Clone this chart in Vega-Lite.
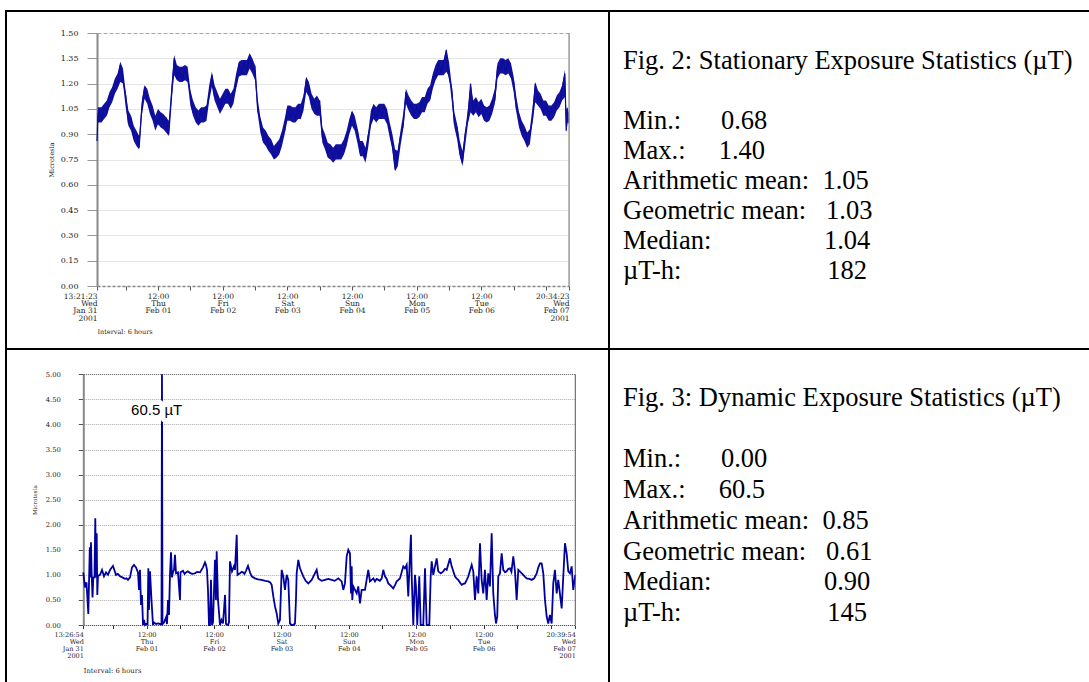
{
"$schema": "https://vega.github.io/schema/vega-lite/v6.json",
"background": "white",
"padding": {"left": 5, "top": 10, "right": 0, "bottom": 0},
"columns": 2,
"spacing": 0,
"bounds": "flush",
"align": "each",
"config": {
  "view": {"stroke": "black", "strokeWidth": 2, "fill": "white"},
  "axis": {"labelFont": "DejaVu Serif", "titleFont": "DejaVu Serif", "labelColor": "#222222", "titleColor": "#222222", "titleFontWeight": "normal"},
  "axisY": {"labelOverlap": false},
  "axisX": {"labelOverlap": false}
},
"concat": [
{
  "width": 603, "height": 338,
  "data": {"values": [
{"t":"2001-01-31T13:21:23","lo":0.84,"hi":0.96,"v":0.86},{"t":"2001-01-31T13:40","lo":0.97,"hi":1.06,"v":1.00},{"t":"2001-01-31T14:00","lo":0.97,"hi":1.06,"v":1.04},{"t":"2001-01-31T15:00","lo":0.97,"hi":1.06,"v":0.99},{"t":"2001-01-31T16:00","lo":0.99,"hi":1.08,"v":1.06},{"t":"2001-01-31T17:00","lo":1.01,"hi":1.10,"v":1.03},{"t":"2001-01-31T18:00","lo":1.06,"hi":1.15,"v":1.13},{"t":"2001-01-31T19:00","lo":1.09,"hi":1.18,"v":1.11},{"t":"2001-01-31T20:00","lo":1.14,"hi":1.23,"v":1.21},{"t":"2001-01-31T21:00","lo":1.17,"hi":1.26,"v":1.19},{"t":"2001-01-31T22:00","lo":1.21,"hi":1.33,"v":1.31},{"t":"2001-01-31T23:00","lo":1.20,"hi":1.29,"v":1.22},
{"t":"2001-02-01T00:00","lo":1.06,"hi":1.15,"v":1.13},{"t":"2001-02-01T01:00","lo":0.95,"hi":1.04,"v":0.97},{"t":"2001-02-01T02:00","lo":0.92,"hi":1.01,"v":0.99},{"t":"2001-02-01T03:00","lo":0.86,"hi":0.95,"v":0.88},{"t":"2001-02-01T04:00","lo":0.83,"hi":0.92,"v":0.90},{"t":"2001-02-01T05:00","lo":0.81,"hi":0.89,"v":0.82},{"t":"2001-02-01T06:00","lo":1.01,"hi":1.10,"v":1.06},{"t":"2001-02-01T07:00","lo":1.11,"hi":1.19,"v":1.18},{"t":"2001-02-01T08:00","lo":1.08,"hi":1.17,"v":1.10},{"t":"2001-02-01T09:00","lo":1.02,"hi":1.11,"v":1.09},{"t":"2001-02-01T10:00","lo":0.98,"hi":1.07,"v":1.00},{"t":"2001-02-01T11:00","lo":0.92,"hi":1.01,"v":0.99},{"t":"2001-02-01T12:00","lo":0.96,"hi":1.05,"v":0.96},{"t":"2001-02-01T13:00","lo":0.94,"hi":1.03,"v":1.02},{"t":"2001-02-01T14:00","lo":0.93,"hi":1.02,"v":0.95},{"t":"2001-02-01T15:00","lo":0.91,"hi":1.00,"v":0.99},{"t":"2001-02-01T16:00","lo":0.89,"hi":0.98,"v":0.90},{"t":"2001-02-01T17:00","lo":1.10,"hi":1.19,"v":1.12},{"t":"2001-02-01T18:00","lo":1.25,"hi":1.37,"v":1.35},{"t":"2001-02-01T19:00","lo":1.22,"hi":1.31,"v":1.24},{"t":"2001-02-01T20:00","lo":1.21,"hi":1.30,"v":1.28},{"t":"2001-02-01T21:00","lo":1.21,"hi":1.30,"v":1.22},{"t":"2001-02-01T22:00","lo":1.22,"hi":1.31,"v":1.29},{"t":"2001-02-01T23:00","lo":1.21,"hi":1.30,"v":1.23},
{"t":"2001-02-02T00:00","lo":1.07,"hi":1.16,"v":1.14},{"t":"2001-02-02T01:00","lo":1.01,"hi":1.10,"v":1.03},{"t":"2001-02-02T02:00","lo":0.97,"hi":1.06,"v":1.03},{"t":"2001-02-02T03:00","lo":0.95,"hi":1.04,"v":0.97},{"t":"2001-02-02T04:00","lo":0.97,"hi":1.06,"v":1.04},{"t":"2001-02-02T05:00","lo":0.97,"hi":1.06,"v":0.99},{"t":"2001-02-02T06:00","lo":0.98,"hi":1.07,"v":1.05},{"t":"2001-02-02T07:00","lo":1.10,"hi":1.19,"v":1.13},{"t":"2001-02-02T08:00","lo":1.18,"hi":1.27,"v":1.25},{"t":"2001-02-02T09:00","lo":1.10,"hi":1.19,"v":1.12},{"t":"2001-02-02T10:00","lo":1.06,"hi":1.15,"v":1.13},{"t":"2001-02-02T11:00","lo":1.02,"hi":1.11,"v":1.04},{"t":"2001-02-02T12:00","lo":1.05,"hi":1.14,"v":1.12},{"t":"2001-02-02T13:00","lo":1.08,"hi":1.17,"v":1.10},{"t":"2001-02-02T14:00","lo":1.08,"hi":1.17,"v":1.15},{"t":"2001-02-02T15:00","lo":1.05,"hi":1.14,"v":1.07},{"t":"2001-02-02T16:00","lo":1.08,"hi":1.17,"v":1.15},{"t":"2001-02-02T17:00","lo":1.17,"hi":1.26,"v":1.19},{"t":"2001-02-02T18:00","lo":1.24,"hi":1.33,"v":1.31},{"t":"2001-02-02T19:00","lo":1.25,"hi":1.34,"v":1.27},{"t":"2001-02-02T20:00","lo":1.25,"hi":1.34,"v":1.32},{"t":"2001-02-02T21:00","lo":1.25,"hi":1.34,"v":1.27},{"t":"2001-02-02T22:00","lo":1.29,"hi":1.38,"v":1.37},{"t":"2001-02-02T23:00","lo":1.26,"hi":1.35,"v":1.28},
{"t":"2001-02-03T00:00","lo":1.22,"hi":1.31,"v":1.30},{"t":"2001-02-03T01:00","lo":1.02,"hi":1.11,"v":1.04},{"t":"2001-02-03T02:00","lo":0.91,"hi":1.00,"v":0.98},{"t":"2001-02-03T03:00","lo":0.85,"hi":0.94,"v":0.87},{"t":"2001-02-03T04:00","lo":0.83,"hi":0.92,"v":0.90},{"t":"2001-02-03T05:00","lo":0.80,"hi":0.89,"v":0.82},{"t":"2001-02-03T06:00","lo":0.78,"hi":0.87,"v":0.85},{"t":"2001-02-03T07:00","lo":0.75,"hi":0.83,"v":0.76},{"t":"2001-02-03T08:00","lo":0.76,"hi":0.85,"v":0.83},{"t":"2001-02-03T09:00","lo":0.78,"hi":0.87,"v":0.80},{"t":"2001-02-03T10:00","lo":0.83,"hi":0.92,"v":0.90},{"t":"2001-02-03T11:00","lo":0.90,"hi":0.99,"v":0.92},{"t":"2001-02-03T12:00","lo":0.98,"hi":1.07,"v":1.05},{"t":"2001-02-03T13:00","lo":0.98,"hi":1.07,"v":1.00},{"t":"2001-02-03T14:00","lo":0.97,"hi":1.06,"v":1.04},{"t":"2001-02-03T15:00","lo":0.97,"hi":1.06,"v":0.99},{"t":"2001-02-03T16:00","lo":0.99,"hi":1.08,"v":1.06},{"t":"2001-02-03T17:00","lo":0.99,"hi":1.08,"v":1.01},{"t":"2001-02-03T18:00","lo":1.04,"hi":1.13,"v":1.10},{"t":"2001-02-03T19:00","lo":1.15,"hi":1.24,"v":1.22},{"t":"2001-02-03T20:00","lo":1.12,"hi":1.21,"v":1.18},{"t":"2001-02-03T21:00","lo":1.05,"hi":1.14,"v":1.07},{"t":"2001-02-03T22:00","lo":1.02,"hi":1.11,"v":1.09},{"t":"2001-02-03T23:00","lo":1.01,"hi":1.13,"v":1.03},
{"t":"2001-02-04T00:00","lo":1.01,"hi":1.10,"v":1.10},{"t":"2001-02-04T01:00","lo":0.85,"hi":0.94,"v":0.88},{"t":"2001-02-04T02:00","lo":0.81,"hi":0.90,"v":0.88},{"t":"2001-02-04T03:00","lo":0.76,"hi":0.85,"v":0.78},{"t":"2001-02-04T04:00","lo":0.75,"hi":0.84,"v":0.82},{"t":"2001-02-04T05:00","lo":0.73,"hi":0.82,"v":0.76},{"t":"2001-02-04T06:00","lo":0.75,"hi":0.84,"v":0.82},{"t":"2001-02-04T07:00","lo":0.75,"hi":0.84,"v":0.77},{"t":"2001-02-04T08:00","lo":0.75,"hi":0.84,"v":0.82},{"t":"2001-02-04T09:00","lo":0.78,"hi":0.87,"v":0.80},{"t":"2001-02-04T10:00","lo":0.83,"hi":0.92,"v":0.90},{"t":"2001-02-04T11:00","lo":0.90,"hi":0.99,"v":0.92},{"t":"2001-02-04T12:00","lo":0.95,"hi":1.04,"v":1.03},{"t":"2001-02-04T13:00","lo":0.92,"hi":1.01,"v":0.95},{"t":"2001-02-04T14:00","lo":0.85,"hi":0.94,"v":0.92},{"t":"2001-02-04T15:00","lo":0.77,"hi":0.86,"v":0.80},{"t":"2001-02-04T16:00","lo":0.77,"hi":0.86,"v":0.84},{"t":"2001-02-04T17:00","lo":0.73,"hi":0.82,"v":0.76},{"t":"2001-02-04T18:00","lo":0.82,"hi":0.91,"v":0.89},{"t":"2001-02-04T19:00","lo":0.95,"hi":1.04,"v":0.97},{"t":"2001-02-04T20:00","lo":0.99,"hi":1.08,"v":1.06},{"t":"2001-02-04T21:00","lo":0.97,"hi":1.06,"v":0.99},{"t":"2001-02-04T22:00","lo":0.99,"hi":1.08,"v":1.06},{"t":"2001-02-04T23:00","lo":0.99,"hi":1.08,"v":1.01},
{"t":"2001-02-05T00:00","lo":0.99,"hi":1.08,"v":1.06},{"t":"2001-02-05T01:00","lo":0.96,"hi":1.05,"v":0.98},{"t":"2001-02-05T02:00","lo":0.88,"hi":0.97,"v":0.94},{"t":"2001-02-05T03:00","lo":0.81,"hi":0.90,"v":0.83},{"t":"2001-02-05T04:00","lo":0.68,"hi":0.81,"v":0.69},{"t":"2001-02-05T05:00","lo":0.71,"hi":0.80,"v":0.79},{"t":"2001-02-05T06:00","lo":0.83,"hi":0.92,"v":0.89},{"t":"2001-02-05T07:00","lo":0.93,"hi":1.02,"v":0.95},{"t":"2001-02-05T08:00","lo":1.08,"hi":1.17,"v":1.15},{"t":"2001-02-05T09:00","lo":1.04,"hi":1.13,"v":1.06},{"t":"2001-02-05T10:00","lo":1.01,"hi":1.10,"v":1.08},{"t":"2001-02-05T11:00","lo":0.99,"hi":1.08,"v":1.01},{"t":"2001-02-05T12:00","lo":0.99,"hi":1.08,"v":1.06},{"t":"2001-02-05T13:00","lo":1.00,"hi":1.09,"v":1.02},{"t":"2001-02-05T14:00","lo":1.03,"hi":1.12,"v":1.10},{"t":"2001-02-05T15:00","lo":1.03,"hi":1.12,"v":1.05},{"t":"2001-02-05T16:00","lo":1.08,"hi":1.17,"v":1.15},{"t":"2001-02-05T17:00","lo":1.10,"hi":1.19,"v":1.12},{"t":"2001-02-05T18:00","lo":1.17,"hi":1.26,"v":1.24},{"t":"2001-02-05T19:00","lo":1.22,"hi":1.31,"v":1.24},{"t":"2001-02-05T20:00","lo":1.25,"hi":1.34,"v":1.32},{"t":"2001-02-05T21:00","lo":1.25,"hi":1.34,"v":1.27},{"t":"2001-02-05T22:00","lo":1.25,"hi":1.34,"v":1.32},{"t":"2001-02-05T23:00","lo":1.27,"hi":1.40,"v":1.40},
{"t":"2001-02-06T00:00","lo":1.24,"hi":1.33,"v":1.24},{"t":"2001-02-06T01:00","lo":1.10,"hi":1.19,"v":1.17},{"t":"2001-02-06T02:00","lo":0.94,"hi":1.03,"v":0.96},{"t":"2001-02-06T03:00","lo":0.87,"hi":0.96,"v":0.94},{"t":"2001-02-06T04:00","lo":0.77,"hi":0.86,"v":0.79},{"t":"2001-02-06T05:00","lo":0.71,"hi":0.80,"v":0.73},{"t":"2001-02-06T06:00","lo":0.83,"hi":0.92,"v":0.90},{"t":"2001-02-06T07:00","lo":0.96,"hi":1.05,"v":0.99},{"t":"2001-02-06T08:00","lo":1.03,"hi":1.20,"v":1.20},{"t":"2001-02-06T09:00","lo":1.01,"hi":1.10,"v":1.03},{"t":"2001-02-06T10:00","lo":1.03,"hi":1.12,"v":1.10},{"t":"2001-02-06T11:00","lo":1.00,"hi":1.09,"v":1.02},{"t":"2001-02-06T12:00","lo":1.02,"hi":1.11,"v":1.09},{"t":"2001-02-06T13:00","lo":0.98,"hi":1.07,"v":1.00},{"t":"2001-02-06T14:00","lo":0.97,"hi":1.06,"v":1.04},{"t":"2001-02-06T15:00","lo":0.98,"hi":1.07,"v":1.00},{"t":"2001-02-06T16:00","lo":1.02,"hi":1.11,"v":1.09},{"t":"2001-02-06T17:00","lo":1.08,"hi":1.17,"v":1.10},{"t":"2001-02-06T18:00","lo":1.23,"hi":1.32,"v":1.30},{"t":"2001-02-06T19:00","lo":1.26,"hi":1.35,"v":1.28},{"t":"2001-02-06T20:00","lo":1.26,"hi":1.35,"v":1.34},{"t":"2001-02-06T21:00","lo":1.25,"hi":1.34,"v":1.27},{"t":"2001-02-06T22:00","lo":1.26,"hi":1.35,"v":1.33},{"t":"2001-02-06T23:00","lo":1.23,"hi":1.32,"v":1.25},
{"t":"2001-02-07T00:00","lo":1.15,"hi":1.24,"v":1.21},{"t":"2001-02-07T01:00","lo":1.03,"hi":1.12,"v":1.05},{"t":"2001-02-07T02:00","lo":0.94,"hi":1.03,"v":1.01},{"t":"2001-02-07T03:00","lo":0.89,"hi":0.98,"v":0.91},{"t":"2001-02-07T04:00","lo":0.86,"hi":0.95,"v":0.93},{"t":"2001-02-07T05:00","lo":0.82,"hi":0.91,"v":0.85},{"t":"2001-02-07T06:00","lo":0.84,"hi":0.93,"v":0.90},{"t":"2001-02-07T07:00","lo":0.97,"hi":1.06,"v":0.99},{"t":"2001-02-07T08:00","lo":1.09,"hi":1.21,"v":1.20},{"t":"2001-02-07T09:00","lo":1.07,"hi":1.16,"v":1.09},{"t":"2001-02-07T10:00","lo":1.05,"hi":1.14,"v":1.12},{"t":"2001-02-07T11:00","lo":1.01,"hi":1.10,"v":1.03},{"t":"2001-02-07T12:00","lo":1.01,"hi":1.10,"v":1.08},{"t":"2001-02-07T13:00","lo":0.98,"hi":1.07,"v":1.00},{"t":"2001-02-07T14:00","lo":0.98,"hi":1.07,"v":1.05},{"t":"2001-02-07T15:00","lo":1.00,"hi":1.09,"v":1.02},{"t":"2001-02-07T16:00","lo":1.04,"hi":1.13,"v":1.11},{"t":"2001-02-07T17:00","lo":1.06,"hi":1.15,"v":1.08},{"t":"2001-02-07T18:00","lo":1.10,"hi":1.19,"v":1.17},{"t":"2001-02-07T19:00","lo":1.12,"hi":1.28,"v":1.26},{"t":"2001-02-07T19:30","lo":0.91,"hi":1.05,"v":0.92},{"t":"2001-02-07T20:00","lo":0.97,"hi":1.06,"v":1.03},{"t":"2001-02-07T20:34:23","lo":0.96,"hi":1.02,"v":0.98}
  ]},
  "layer": [
    {
      "mark": {"type": "area", "color": "#12129e", "opacity": 1},
      "encoding": {
        "x": {"field": "t", "type": "temporal", "scale": {"range": [91, 563.1], "nice": false},
          "axis": {"title": "Interval: 6 hours", "titleAnchor": "start", "titleAlign": "left", "titleFontSize": 6.5, "titlePadding": 7,
            "values": [
              {"year":2001,"month":1,"date":31,"hours":13,"minutes":21,"seconds":23},
              {"year":2001,"month":1,"date":31,"hours":18},
              {"year":2001,"month":2,"date":1,"hours":0},{"year":2001,"month":2,"date":1,"hours":6},{"year":2001,"month":2,"date":1,"hours":12},{"year":2001,"month":2,"date":1,"hours":18},
              {"year":2001,"month":2,"date":2,"hours":0},{"year":2001,"month":2,"date":2,"hours":6},{"year":2001,"month":2,"date":2,"hours":12},{"year":2001,"month":2,"date":2,"hours":18},
              {"year":2001,"month":2,"date":3,"hours":0},{"year":2001,"month":2,"date":3,"hours":6},{"year":2001,"month":2,"date":3,"hours":12},{"year":2001,"month":2,"date":3,"hours":18},
              {"year":2001,"month":2,"date":4,"hours":0},{"year":2001,"month":2,"date":4,"hours":6},{"year":2001,"month":2,"date":4,"hours":12},{"year":2001,"month":2,"date":4,"hours":18},
              {"year":2001,"month":2,"date":5,"hours":0},{"year":2001,"month":2,"date":5,"hours":6},{"year":2001,"month":2,"date":5,"hours":12},{"year":2001,"month":2,"date":5,"hours":18},
              {"year":2001,"month":2,"date":6,"hours":0},{"year":2001,"month":2,"date":6,"hours":6},{"year":2001,"month":2,"date":6,"hours":12},{"year":2001,"month":2,"date":6,"hours":18},
              {"year":2001,"month":2,"date":7,"hours":0},{"year":2001,"month":2,"date":7,"hours":6},{"year":2001,"month":2,"date":7,"hours":12},{"year":2001,"month":2,"date":7,"hours":18},
              {"year":2001,"month":2,"date":7,"hours":20,"minutes":34,"seconds":23}
            ],
            "labelExpr": "minutes(datum.value) != 0 ? split(timeFormat(datum.value, '%H:%M:%S|%a|%b %d|%Y'), '|') : (hours(datum.value) == 12 && date(datum.value) != 7 ? split(timeFormat(datum.value, '%H:%M|%a|%b %d'), '|') : '')",
            "labelAlign": {"condition": {"test": "minutes(datum.value) != 0", "value": "right"}, "value": "center"},
            "labelFontSize": 7.5, "labelLineHeight": 7.4, "labelPadding": 2, "labelOverlap": false, "labelFlush": false, "labelBound": false,
            "tickSize": 4, "tickColor": "#555555",
            "domainColor": "#888888", "domainDash": [3, 2], "domainWidth": 1.5,
            "grid": false, "offset": -63}},
        "y": {"field": "lo", "type": "quantitative", "scale": {"domain": [0, 1.5], "range": [275, 22], "nice": false},
          "axis": {"title": "Microtesla", "titleFontSize": 6.5, "titlePadding": 6,
            "values": [0, 0.15, 0.3, 0.45, 0.6, 0.75, 0.9, 1.05, 1.2, 1.35, 1.5], "tickCount": 40, "format": ".2f", "labelOverlap": false,
            "labelFontSize": 8, "labelPadding": 9, "tickSize": 10, "tickColor": "#999999",
            "domainColor": "#888888", "domainWidth": 2,
            "grid": true,
            "gridColor": {"condition": {"test": "datum.value >= 1.5", "value": "#aaaaaa"}, "value": "#e6e6e6"},
            "gridDash": {"condition": {"test": "datum.value >= 1.5", "value": [4, 2]}, "value": []},
            "offset": -91}},
        "y2": {"field": "hi"}
      }
    },
    {
      "mark": {"type": "line", "color": "#0b0b9c", "strokeWidth": 1.2},
      "encoding": {
        "x": {"field": "t", "type": "temporal", "title": "Interval: 6 hours"},
        "y": {"field": "v", "type": "quantitative", "title": "Microtesla"}
      }
    },
    {
      "mark": {"type": "rule", "color": "#999999", "strokeWidth": 1.5},
      "encoding": {
        "x": {"aggregate": "max", "field": "t", "type": "temporal", "title": "Interval: 6 hours"},
        "y": {"datum": 0, "type": "quantitative", "title": "Microtesla"},
        "y2": {"datum": 1.5}
      }
    }
  ]
},
{
  "width": 490, "height": 338,
  "data": {"values": [
    {"line": 0, "text": "Fig. 2: Stationary Exposure Statistics (µT)"},
    {"line": 2, "text": "Min.:\u00a0\u00a0\u00a0\u00a0\u00a0\u00a00.68"},
    {"line": 3, "text": "Max.:\u00a0\u00a0\u00a0\u00a0\u00a01.40"},
    {"line": 4, "text": "Arithmetic mean:\u00a0\u00a01.05"},
    {"line": 5, "text": "Geometric mean:\u00a0\u00a0\u00a01.03"},
    {"line": 6, "text": "Median:\u00a0\u00a0\u00a0\u00a0\u00a0\u00a0\u00a0\u00a0\u00a0\u00a0\u00a0\u00a0\u00a0\u00a0\u00a0\u00a0\u00a01.04"},
    {"line": 7, "text": "µT-h:\u00a0\u00a0\u00a0\u00a0\u00a0\u00a0\u00a0\u00a0\u00a0\u00a0\u00a0\u00a0\u00a0\u00a0\u00a0\u00a0\u00a0\u00a0\u00a0\u00a0\u00a0\u00a0182"}
  ]},
  "mark": {"type": "text", "align": "left", "baseline": "alphabetic", "font": "Liberation Serif", "fontSize": 26.5, "color": "black"},
  "encoding": {
    "x": {"datum": 0, "type": "quantitative", "scale": {"domain": [0, 1], "range": [14, 480]}, "axis": null},
    "y": {"field": "line", "type": "quantitative", "scale": {"domain": [0, 9], "range": [58, 328.4]}, "axis": null},
    "text": {"field": "text", "type": "nominal"}
  }
},
{
  "width": 603, "height": 345,
  "data": {"values": [
{"t":"2001-01-31T13:26:54","v":1.05},{"t":"2001-01-31T13:50","v":0.85},{"t":"2001-01-31T14:03","v":0.75},{"t":"2001-01-31T14:35","v":0.85},{"t":"2001-01-31T14:57","v":0.50},{"t":"2001-01-31T15:14","v":0.22},{"t":"2001-01-31T15:29","v":0.85},{"t":"2001-01-31T15:46","v":1.55},{"t":"2001-01-31T16:01","v":0.95},{"t":"2001-01-31T16:11","v":1.65},{"t":"2001-01-31T16:26","v":1.00},{"t":"2001-01-31T16:44","v":0.55},{"t":"2001-01-31T17:01","v":0.95},{"t":"2001-01-31T17:26","v":0.95},{"t":"2001-01-31T17:43","v":2.13},{"t":"2001-01-31T17:58","v":0.95},{"t":"2001-01-31T18:13","v":1.83},{"t":"2001-01-31T18:26","v":0.60},{"t":"2001-01-31T18:41","v":0.98},{"t":"2001-01-31T19:24","v":1.00},{"t":"2001-01-31T20:07","v":1.10},{"t":"2001-01-31T20:49","v":0.97},{"t":"2001-01-31T21:32","v":1.05},{"t":"2001-01-31T22:15","v":1.00},{"t":"2001-01-31T22:58","v":1.10},
{"t":"2001-02-01T00:01","v":1.18},{"t":"2001-02-01T01:05","v":1.00},{"t":"2001-02-01T01:45","v":1.02},{"t":"2001-02-01T02:31","v":0.97},{"t":"2001-02-01T03:20","v":0.95},{"t":"2001-02-01T04:18","v":0.92},{"t":"2001-02-01T04:50","v":0.93},{"t":"2001-02-01T05:22","v":0.90},{"t":"2001-02-01T06:05","v":0.95},{"t":"2001-02-01T06:47","v":1.15},{"t":"2001-02-01T07:30","v":1.20},{"t":"2001-02-01T08:13","v":1.15},{"t":"2001-02-01T08:56","v":1.05},{"t":"2001-02-01T09:17","v":0.70},{"t":"2001-02-01T09:38","v":1.10},{"t":"2001-02-01T10:00","v":0.40},{"t":"2001-02-01T10:21","v":0.60},{"t":"2001-02-01T10:43","v":0.00},{"t":"2001-02-01T11:04","v":0.10},{"t":"2001-02-01T11:25","v":0.00},{"t":"2001-02-01T11:47","v":0.02},{"t":"2001-02-01T12:20","v":0.02},{"t":"2001-02-01T12:36","v":1.13},{"t":"2001-02-01T12:50","v":0.30},{"t":"2001-02-01T13:12","v":1.07},{"t":"2001-02-01T13:44","v":0.50},{"t":"2001-02-01T14:16","v":0.00},{"t":"2001-02-01T14:37","v":0.05},{"t":"2001-02-01T15:20","v":0.02},{"t":"2001-02-01T16:03","v":0.03},{"t":"2001-02-01T16:46","v":0.02},{"t":"2001-02-01T17:18","v":0.02},{"t":"2001-02-01T17:28","v":60.5},{"t":"2001-02-01T17:39","v":0.02},{"t":"2001-02-01T18:11","v":0.05},{"t":"2001-02-01T18:54","v":0.15},{"t":"2001-02-01T19:15","v":0.02},{"t":"2001-02-01T19:37","v":0.50},{"t":"2001-02-01T19:58","v":0.20},{"t":"2001-02-01T20:19","v":1.00},{"t":"2001-02-01T20:41","v":1.45},{"t":"2001-02-01T21:02","v":0.95},{"t":"2001-02-01T21:23","v":1.05},{"t":"2001-02-01T21:45","v":1.10},{"t":"2001-02-01T22:06","v":1.40},{"t":"2001-02-01T22:28","v":1.03},{"t":"2001-02-01T23:10","v":1.05},{"t":"2001-02-01T23:53","v":0.50},
{"t":"2001-02-02T00:04","v":1.05},{"t":"2001-02-02T00:57","v":1.08},{"t":"2001-02-02T01:30","v":1.02},{"t":"2001-02-02T02:01","v":1.05},{"t":"2001-02-02T02:40","v":1.07},{"t":"2001-02-02T03:26","v":1.04},{"t":"2001-02-02T04:10","v":1.02},{"t":"2001-02-02T05:13","v":1.03},{"t":"2001-02-02T06:00","v":1.06},{"t":"2001-02-02T07:01","v":1.05},{"t":"2001-02-02T08:04","v":1.15},{"t":"2001-02-02T08:47","v":1.25},{"t":"2001-02-02T09:08","v":1.20},{"t":"2001-02-02T09:30","v":1.10},{"t":"2001-02-02T09:51","v":0.70},{"t":"2001-02-02T10:13","v":0.00},{"t":"2001-02-02T10:34","v":0.00},{"t":"2001-02-02T10:55","v":0.90},{"t":"2001-02-02T11:17","v":0.00},{"t":"2001-02-02T11:38","v":0.05},{"t":"2001-02-02T12:21","v":1.30},{"t":"2001-02-02T12:42","v":0.50},{"t":"2001-02-02T12:57","v":1.47},{"t":"2001-02-02T13:25","v":0.50},{"t":"2001-02-02T14:08","v":0.00},{"t":"2001-02-02T14:40","v":0.10},{"t":"2001-02-02T15:12","v":0.03},{"t":"2001-02-02T15:33","v":0.30},{"t":"2001-02-02T15:55","v":0.60},{"t":"2001-02-02T16:16","v":0.02},{"t":"2001-02-02T16:59","v":0.00},{"t":"2001-02-02T17:20","v":0.05},{"t":"2001-02-02T17:41","v":1.27},{"t":"2001-02-02T18:24","v":1.07},{"t":"2001-02-02T19:07","v":1.17},{"t":"2001-02-02T19:28","v":1.10},{"t":"2001-02-02T20:05","v":1.80},{"t":"2001-02-02T20:22","v":1.00},{"t":"2001-02-02T21:15","v":1.03},{"t":"2001-02-02T21:50","v":1.06},{"t":"2001-02-02T22:19","v":1.05},{"t":"2001-02-02T22:50","v":1.02},{"t":"2001-02-02T23:23","v":1.08},
{"t":"2001-02-03T00:06","v":1.18},{"t":"2001-02-03T00:49","v":1.05},{"t":"2001-02-03T01:25","v":0.97},{"t":"2001-02-03T02:35","v":0.93},{"t":"2001-02-03T03:40","v":0.91},{"t":"2001-02-03T04:59","v":0.90},{"t":"2001-02-03T06:10","v":0.88},{"t":"2001-02-03T07:20","v":0.87},{"t":"2001-02-03T08:00","v":0.85},{"t":"2001-02-03T08:32","v":0.80},{"t":"2001-02-03T09:07","v":0.57},{"t":"2001-02-03T09:43","v":0.37},{"t":"2001-02-03T10:19","v":0.23},{"t":"2001-02-03T10:53","v":0.03},{"t":"2001-02-03T11:29","v":0.10},{"t":"2001-02-03T12:06","v":1.10},{"t":"2001-02-03T12:40","v":0.97},{"t":"2001-02-03T13:16","v":0.70},{"t":"2001-02-03T13:53","v":1.00},{"t":"2001-02-03T14:27","v":0.90},{"t":"2001-02-03T15:03","v":0.03},{"t":"2001-02-03T15:40","v":0.00},{"t":"2001-02-03T16:14","v":0.00},{"t":"2001-02-03T16:50","v":0.03},{"t":"2001-02-03T17:11","v":0.50},{"t":"2001-02-03T17:26","v":1.03},{"t":"2001-02-03T18:01","v":1.30},{"t":"2001-02-03T18:37","v":1.13},{"t":"2001-02-03T19:47","v":0.97},{"t":"2001-02-03T20:40","v":0.88},{"t":"2001-02-03T21:34","v":0.83},{"t":"2001-02-03T22:47","v":0.90},
{"t":"2001-02-04T00:34","v":1.10},{"t":"2001-02-04T01:08","v":0.93},{"t":"2001-02-04T02:20","v":0.88},{"t":"2001-02-04T03:31","v":0.90},{"t":"2001-02-04T04:40","v":0.92},{"t":"2001-02-04T05:54","v":0.90},{"t":"2001-02-04T07:00","v":0.88},{"t":"2001-02-04T08:15","v":0.93},{"t":"2001-02-04T09:28","v":0.87},{"t":"2001-02-04T10:02","v":0.70},{"t":"2001-02-04T10:38","v":0.83},{"t":"2001-02-04T11:15","v":1.37},{"t":"2001-02-04T11:49","v":1.50},{"t":"2001-02-04T12:25","v":1.43},{"t":"2001-02-04T12:47","v":0.63},{"t":"2001-02-04T13:02","v":1.17},{"t":"2001-02-04T13:14","v":0.50},{"t":"2001-02-04T13:36","v":0.77},{"t":"2001-02-04T14:12","v":0.70},{"t":"2001-02-04T14:49","v":0.63},{"t":"2001-02-04T15:23","v":0.77},{"t":"2001-02-04T15:59","v":0.43},{"t":"2001-02-04T16:35","v":0.70},{"t":"2001-02-04T17:46","v":0.70},{"t":"2001-02-04T18:56","v":1.10},{"t":"2001-02-04T19:32","v":0.87},{"t":"2001-02-04T20:09","v":0.90},{"t":"2001-02-04T20:45","v":0.93},{"t":"2001-02-04T21:19","v":0.87},{"t":"2001-02-04T21:55","v":0.92},{"t":"2001-02-04T22:30","v":0.90},{"t":"2001-02-04T23:05","v":0.88},{"t":"2001-02-04T23:43","v":0.93},
{"t":"2001-02-05T00:17","v":1.10},{"t":"2001-02-05T00:53","v":0.97},{"t":"2001-02-05T01:30","v":0.92},{"t":"2001-02-05T02:04","v":0.83},{"t":"2001-02-05T03:00","v":0.78},{"t":"2001-02-05T03:50","v":0.73},{"t":"2001-02-05T04:30","v":0.80},{"t":"2001-02-05T05:03","v":0.87},{"t":"2001-02-05T05:40","v":0.90},{"t":"2001-02-05T06:13","v":0.93},{"t":"2001-02-05T07:24","v":1.17},{"t":"2001-02-05T08:00","v":1.13},{"t":"2001-02-05T08:37","v":1.20},{"t":"2001-02-05T09:11","v":0.57},{"t":"2001-02-05T09:37","v":1.17},{"t":"2001-02-05T10:08","v":1.80},{"t":"2001-02-05T10:23","v":1.00},{"t":"2001-02-05T10:58","v":0.00},{"t":"2001-02-05T11:34","v":1.00},{"t":"2001-02-05T11:55","v":0.77},{"t":"2001-02-05T12:23","v":0.00},{"t":"2001-02-05T13:06","v":0.97},{"t":"2001-02-05T13:36","v":0.00},{"t":"2001-02-05T14:31","v":0.00},{"t":"2001-02-05T15:08","v":1.13},{"t":"2001-02-05T15:44","v":0.00},{"t":"2001-02-05T16:40","v":0.00},{"t":"2001-02-05T17:10","v":0.97},{"t":"2001-02-05T17:31","v":1.27},{"t":"2001-02-05T18:05","v":1.00},{"t":"2001-02-05T19:18","v":1.33},{"t":"2001-02-05T19:52","v":1.07},{"t":"2001-02-05T20:45","v":1.03},{"t":"2001-02-05T21:39","v":1.07},{"t":"2001-02-05T22:15","v":1.12},{"t":"2001-02-05T22:52","v":1.10},
{"t":"2001-02-06T00:02","v":1.33},{"t":"2001-02-06T00:38","v":1.17},{"t":"2001-02-06T01:49","v":0.97},{"t":"2001-02-06T02:20","v":0.93},{"t":"2001-02-06T02:59","v":0.90},{"t":"2001-02-06T03:35","v":0.85},{"t":"2001-02-06T04:12","v":0.80},{"t":"2001-02-06T04:45","v":0.82},{"t":"2001-02-06T05:22","v":0.83},{"t":"2001-02-06T06:00","v":0.90},{"t":"2001-02-06T06:33","v":0.97},{"t":"2001-02-06T07:46","v":1.20},{"t":"2001-02-06T08:20","v":1.07},{"t":"2001-02-06T08:56","v":0.50},{"t":"2001-02-06T09:32","v":0.97},{"t":"2001-02-06T10:07","v":0.63},{"t":"2001-02-06T10:43","v":1.63},{"t":"2001-02-06T11:19","v":0.90},{"t":"2001-02-06T11:53","v":0.63},{"t":"2001-02-06T12:29","v":1.10},{"t":"2001-02-06T13:06","v":0.50},{"t":"2001-02-06T13:40","v":1.03},{"t":"2001-02-06T14:16","v":0.77},{"t":"2001-02-06T14:53","v":1.83},{"t":"2001-02-06T15:27","v":0.63},{"t":"2001-02-06T16:03","v":0.20},{"t":"2001-02-06T16:25","v":0.03},{"t":"2001-02-06T16:52","v":0.17},{"t":"2001-02-06T17:14","v":0.97},{"t":"2001-02-06T17:50","v":1.03},{"t":"2001-02-06T18:26","v":1.43},{"t":"2001-02-06T19:01","v":1.10},{"t":"2001-02-06T19:40","v":1.05},{"t":"2001-02-06T20:13","v":1.07},{"t":"2001-02-06T20:50","v":1.12},{"t":"2001-02-06T21:24","v":1.13},{"t":"2001-02-06T21:55","v":1.06},{"t":"2001-02-06T22:35","v":1.37},{"t":"2001-02-06T23:11","v":1.07},{"t":"2001-02-06T23:47","v":0.50},
{"t":"2001-02-07T00:22","v":1.10},{"t":"2001-02-07T01:15","v":1.05},{"t":"2001-02-07T02:08","v":1.00},{"t":"2001-02-07T02:45","v":0.96},{"t":"2001-02-07T03:21","v":0.93},{"t":"2001-02-07T04:15","v":0.92},{"t":"2001-02-07T05:08","v":0.90},{"t":"2001-02-07T06:00","v":0.93},{"t":"2001-02-07T06:55","v":1.03},{"t":"2001-02-07T07:30","v":1.15},{"t":"2001-02-07T08:05","v":1.23},{"t":"2001-02-07T08:41","v":1.23},{"t":"2001-02-07T09:16","v":1.03},{"t":"2001-02-07T09:52","v":0.50},{"t":"2001-02-07T10:28","v":0.17},{"t":"2001-02-07T11:02","v":0.03},{"t":"2001-02-07T11:38","v":0.20},{"t":"2001-02-07T12:15","v":0.03},{"t":"2001-02-07T12:49","v":0.83},{"t":"2001-02-07T13:25","v":1.10},{"t":"2001-02-07T14:02","v":0.63},{"t":"2001-02-07T14:36","v":0.90},{"t":"2001-02-07T15:49","v":0.33},{"t":"2001-02-07T16:23","v":0.97},{"t":"2001-02-07T16:59","v":1.63},{"t":"2001-02-07T17:35","v":1.43},{"t":"2001-02-07T18:10","v":1.07},{"t":"2001-02-07T18:46","v":1.03},{"t":"2001-02-07T19:22","v":1.17},{"t":"2001-02-07T19:56","v":0.70},{"t":"2001-02-07T20:39:54","v":1.00}
  ]},
  "layer": [
    {
      "mark": {"type": "line", "color": "#0000a0", "strokeWidth": 1.8},
      "encoding": {
        "x": {"field": "t", "type": "temporal", "scale": {"range": [77.3, 569.3], "nice": false},
          "axis": {"title": "Interval: 6 hours", "titleAnchor": "start", "titleAlign": "left", "titleFontSize": 6.8, "titlePadding": 8,
            "values": [
              {"year":2001,"month":1,"date":31,"hours":13,"minutes":26,"seconds":54},
              {"year":2001,"month":1,"date":31,"hours":18},
              {"year":2001,"month":2,"date":1,"hours":0},{"year":2001,"month":2,"date":1,"hours":6},{"year":2001,"month":2,"date":1,"hours":12},{"year":2001,"month":2,"date":1,"hours":18},
              {"year":2001,"month":2,"date":2,"hours":0},{"year":2001,"month":2,"date":2,"hours":6},{"year":2001,"month":2,"date":2,"hours":12},{"year":2001,"month":2,"date":2,"hours":18},
              {"year":2001,"month":2,"date":3,"hours":0},{"year":2001,"month":2,"date":3,"hours":6},{"year":2001,"month":2,"date":3,"hours":12},{"year":2001,"month":2,"date":3,"hours":18},
              {"year":2001,"month":2,"date":4,"hours":0},{"year":2001,"month":2,"date":4,"hours":6},{"year":2001,"month":2,"date":4,"hours":12},{"year":2001,"month":2,"date":4,"hours":18},
              {"year":2001,"month":2,"date":5,"hours":0},{"year":2001,"month":2,"date":5,"hours":6},{"year":2001,"month":2,"date":5,"hours":12},{"year":2001,"month":2,"date":5,"hours":18},
              {"year":2001,"month":2,"date":6,"hours":0},{"year":2001,"month":2,"date":6,"hours":6},{"year":2001,"month":2,"date":6,"hours":12},{"year":2001,"month":2,"date":6,"hours":18},
              {"year":2001,"month":2,"date":7,"hours":0},{"year":2001,"month":2,"date":7,"hours":6},{"year":2001,"month":2,"date":7,"hours":12},{"year":2001,"month":2,"date":7,"hours":18},
              {"year":2001,"month":2,"date":7,"hours":20,"minutes":39,"seconds":54}
            ],
            "labelExpr": "minutes(datum.value) != 0 ? split(timeFormat(datum.value, '%H:%M:%S|%a|%b %d|%Y'), '|') : (hours(datum.value) == 12 && date(datum.value) != 7 ? split(timeFormat(datum.value, '%H:%M|%a|%b %d'), '|') : '')",
            "labelAlign": {"condition": {"test": "minutes(datum.value) != 0", "value": "right"}, "value": "center"},
            "labelFontSize": 6.5, "labelLineHeight": 7, "labelPadding": 3, "labelOverlap": false, "labelFlush": false, "labelBound": false,
            "tickSize": 3.5, "tickColor": "#333333",
            "domainColor": "#444444", "domainDash": [1, 1], "domainWidth": 1,
            "grid": false, "offset": -69}},
        "y": {"field": "v", "type": "quantitative", "scale": {"domain": [0, 5], "range": [276, 25.3], "nice": false, "clamp": true},
          "axis": {"title": "Microtesla", "titleFontSize": 5.5, "titlePadding": 8,
            "values": [0, 0.5, 1, 1.5, 2, 2.5, 3, 3.5, 4, 4.5, 5], "tickCount": 40, "format": ".2f", "labelOverlap": false,
            "labelFontSize": 6.8, "labelPadding": 18, "tickSize": 5, "tickColor": "#555555",
            "domainColor": "#888888", "domainWidth": 2,
            "grid": true,
            "gridColor": {"condition": {"test": "datum.value >= 5", "value": "#555555"}, "value": "#aaaaaa"},
            "gridDash": [1, 1],
            "offset": -77.3}}
      }
    },
    {
      "mark": {"type": "rule", "color": "#555555", "strokeWidth": 1},
      "encoding": {
        "x": {"aggregate": "max", "field": "t", "type": "temporal", "title": "Interval: 6 hours"},
        "y": {"datum": 0, "type": "quantitative", "title": "Microtesla"},
        "y2": {"datum": 5}
      }
    },
    {
      "data": {"values": [{"t": "2001-02-01T15:35", "v": 4.28, "label": "60.5 µT"}]},
      "mark": {"type": "text", "font": "Liberation Sans", "fontSize": 15, "fill": "white", "stroke": "white", "strokeWidth": 10, "strokeJoin": "round", "align": "center", "baseline": "middle"},
      "encoding": {
        "x": {"field": "t", "type": "temporal", "title": "Interval: 6 hours"},
        "y": {"field": "v", "type": "quantitative", "title": "Microtesla"},
        "text": {"field": "label", "type": "nominal"}
      }
    },
    {
      "data": {"values": [{"t": "2001-02-01T15:35", "v": 4.28, "label": "60.5 µT"}]},
      "mark": {"type": "text", "font": "Liberation Sans", "fontSize": 15, "fill": "black", "align": "center", "baseline": "middle"},
      "encoding": {
        "x": {"field": "t", "type": "temporal", "title": "Interval: 6 hours"},
        "y": {"field": "v", "type": "quantitative", "title": "Microtesla"},
        "text": {"field": "label", "type": "nominal"}
      }
    }
  ]
},
{
  "width": 490, "height": 345,
  "data": {"values": [
    {"line": 0, "text": "Fig. 3: Dynamic Exposure Statistics (µT)"},
    {"line": 2, "text": "Min.:\u00a0\u00a0\u00a0\u00a0\u00a0\u00a00.00"},
    {"line": 3, "text": "Max.:\u00a0\u00a0\u00a0\u00a0\u00a060.5"},
    {"line": 4, "text": "Arithmetic mean:\u00a0\u00a00.85"},
    {"line": 5, "text": "Geometric mean:\u00a0\u00a0\u00a00.61"},
    {"line": 6, "text": "Median:\u00a0\u00a0\u00a0\u00a0\u00a0\u00a0\u00a0\u00a0\u00a0\u00a0\u00a0\u00a0\u00a0\u00a0\u00a0\u00a0\u00a00.90"},
    {"line": 7, "text": "µT-h:\u00a0\u00a0\u00a0\u00a0\u00a0\u00a0\u00a0\u00a0\u00a0\u00a0\u00a0\u00a0\u00a0\u00a0\u00a0\u00a0\u00a0\u00a0\u00a0\u00a0\u00a0\u00a0145"}
  ]},
  "mark": {"type": "text", "align": "left", "baseline": "alphabetic", "font": "Liberation Serif", "fontSize": 26.5, "color": "black"},
  "encoding": {
    "x": {"datum": 0, "type": "quantitative", "scale": {"domain": [0, 1], "range": [14, 480]}, "axis": null},
    "y": {"field": "line", "type": "quantitative", "scale": {"domain": [0, 9], "range": [57, 333.3]}, "axis": null},
    "text": {"field": "text", "type": "nominal"}
  }
}
]
}
